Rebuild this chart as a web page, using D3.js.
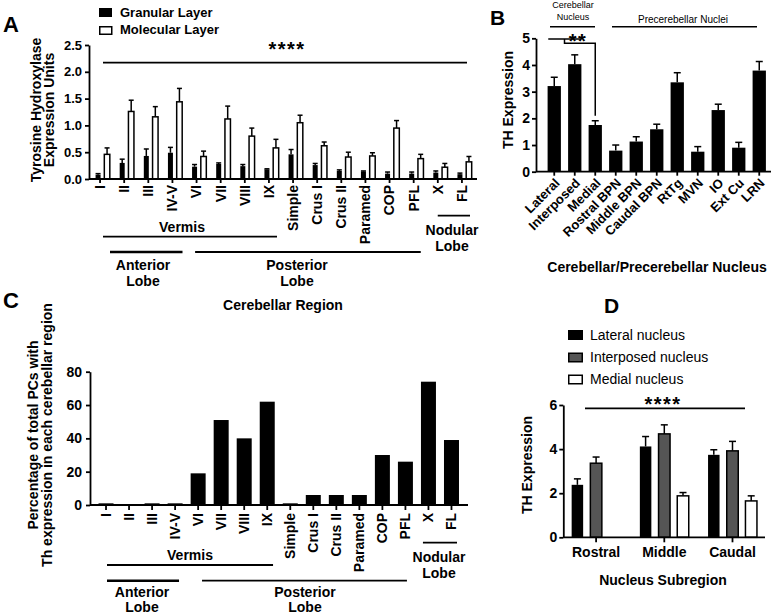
<!DOCTYPE html>
<html><head><meta charset="utf-8">
<script src="https://cdn.jsdelivr.net/npm/d3@7"></script>
<style>body{margin:0;background:#fff}</style>
</head><body><svg id="c" width="775" height="616"></svg>
<script>
// ---------- DATA ----------
const regions = ["I","II","III","IV-V","VI","VII","VIII","IX","Simple","Crus I","Crus II","Paramed","COP","PFL","X","FL"];
const granular     = [0.08,0.30,0.43,0.49,0.23,0.28,0.24,0.18,0.46,0.26,0.15,0.14,0.10,0.10,0.12,0.09];
const granularErr  = [0.02,0.07,0.13,0.10,0.04,0.02,0.03,0.01,0.09,0.03,0.02,0.01,0.03,0.03,0.03,0.02];
const molecular    = [0.46,1.26,1.16,1.44,0.42,1.12,0.80,0.58,1.05,0.62,0.41,0.43,0.95,0.38,0.22,0.32];
const molecularErr = [0.12,0.21,0.19,0.25,0.10,0.24,0.15,0.16,0.14,0.07,0.09,0.06,0.14,0.08,0.07,0.10];
const layerNames = ["Granular Layer","Molecular Layer"];
const ticksA = [0,0.5,1.0,1.5,2.0,2.5];

const nuclei = ["Lateral","Interposed","Medial","Rostral BPN","Middle BPN","Caudal BPN","RtTg","MVN","IO","Ext Cu","LRN"];
const thB    = [3.21,4.03,1.75,0.79,1.13,1.59,3.35,0.75,2.31,0.90,3.79];
const thBErr = [0.33,0.35,0.16,0.21,0.18,0.19,0.36,0.19,0.22,0.20,0.34];
const ticksB = [0,1,2,3,4,5];

const pcPercent = [1,0,1,1,19,51,40,62,1,6,6,6,30,26,74,39];
const ticksC = [0,20,40,60,80];

const subregions = ["Rostral","Middle","Caudal"];
const nucleusNames = ["Lateral nucleus","Interposed nucleus","Medial nucleus"];
const lateralD = [2.38,4.12,3.74],    lateralDErr = [0.27,0.45,0.23];
const interposedD = [3.36,4.69,3.92], interposedDErr = [0.28,0.41,0.43];
const medialD = [null,1.88,1.65],     medialDErr = [null,0.15,0.23];
const ticksD = [0,2,4,6];

// ---------- HELPERS ----------
const F = '"Liberation Sans", Arial, Helvetica, sans-serif';
const svg = d3.select("#c");
const LW = 1.8;
function txt(g, x, y, s, o = {}) {
  const t = g.append("text").attr("x", x).attr("y", y).text(s)
    .attr("font-family", F).attr("font-size", o.size || 14)
    .attr("font-weight", o.weight || "bold")
    .attr("text-anchor", o.anchor || "middle").attr("fill", o.fill || "#000");
  if (o.rotate != null) t.attr("transform", `rotate(${o.rotate},${x},${y})`);
  if (o.ls != null) t.attr("letter-spacing", o.ls);
  return t;
}
function ln(g, x1, y1, x2, y2, w = LW) {
  g.append("line").attr("x1", x1).attr("y1", y1).attr("x2", x2).attr("y2", y2)
    .attr("stroke", "#000").attr("stroke-width", w);
}
function yAxis(g, y, x, vals, fmt, size, tick, pad) {
  const a = g.append("g").attr("transform", `translate(${x},0)`)
    .call(d3.axisLeft(y).tickValues(vals).tickFormat(fmt).tickSize(tick).tickPadding(pad).tickSizeOuter(0));
  a.select(".domain").attr("stroke-width", LW);
  a.selectAll(".tick line").attr("stroke-width", LW);
  a.selectAll(".tick text").attr("font-size", size).attr("font-weight", "bold").attr("font-family", F).attr("fill", "#000");
  return a;
}
function xAxis(g, x, y0, x1, x2, tick) {
  const a = g.append("g").attr("transform", `translate(0,${y0})`)
    .call(d3.axisBottom(x).tickSize(tick).tickSizeOuter(0));
  a.select(".domain").remove();
  a.selectAll(".tick line").attr("stroke-width", LW);
  ln(g, x1, y0, x2, y0);
  return a;
}
function bar(g, cx, w, y, v, err, fill, capW) {
  if (v == null) return;
  const y0 = y(0), yv = y(v);
  if (err) {
    const ye = y(v + err);
    ln(g, cx, yv, cx, ye, 1.5);
    ln(g, cx - capW / 2, ye, cx + capW / 2, ye, 1.5);
  }
  g.append("rect").attr("x", cx - w / 2).attr("y", yv).attr("width", w).attr("height", y0 - yv)
    .attr("fill", fill).attr("stroke", "#000").attr("stroke-width", fill === "#000" ? 0 : 1.5);
}

// ---------- PANEL A ----------
const gA = svg.append("g");
const xA = d3.scaleBand().domain(regions).range([88, 474]);
const yA = d3.scaleLinear().domain([0, 2.5]).range([179, 45]);
const bwA = xA.bandwidth();
regions.forEach((r, i) => {
  const c = xA(r) + bwA / 2;
  bar(gA, c - 2, 5, yA, granular[i], granularErr[i], "#000", 5);
  bar(gA, c + 7, 5.5, yA, molecular[i], molecularErr[i], "#fff", 5);
});
yAxis(gA, yA, 89, ticksA, d3.format(".1f"), 13, 4, 3);
const axA = xAxis(gA, xA, 179, 89, 477, 4);
axA.selectAll(".tick text").attr("font-size", 14).attr("font-weight", "bold").attr("font-family", F).attr("fill", "#000")
  .attr("transform", "rotate(-90)").attr("x", -6).attr("y", 0).attr("dy", "0.35em").attr("text-anchor", "end");
// legend A
gA.append("rect").attr("x", 99).attr("y", 8).attr("width", 13).attr("height", 9).attr("fill", "#000");
gA.append("rect").attr("x", 99.75).attr("y", 26.75).attr("width", 12).attr("height", 7.5).attr("fill", "#fff").attr("stroke", "#000").attr("stroke-width", 1.5);
txt(gA, 120, 16.5, layerNames[0], { size: 13, anchor: "start" });
txt(gA, 120, 33.5, layerNames[1], { size: 13, anchor: "start" });
// significance
ln(gA, 103, 62.7, 467, 62.7);
txt(gA, 287, 56, "****", { size: 20, ls: 1.5 });
// y label
txt(gA, 41, 110, "Tyrosine Hydroxylase", { size: 14, rotate: -90 });
txt(gA, 54, 110, "Expression Units", { size: 14, rotate: -90 });
// group annotations
const sA = xA.step();
ln(gA, xA("I") + 15, 236.7, xA("IX") + sA - 4, 236.7);
txt(gA, 182, 232, "Vermis");
ln(gA, xA("I") + 22, 252, xA("IV-V") + sA - 2, 252, 2.5);
ln(gA, xA("VI") + 10.6, 252, xA("PFL") + sA - 5, 252);
ln(gA, xA("X") + 12, 215.7, xA("FL") + sA - 4, 215.7);
txt(gA, 143, 270, "Anterior"); txt(gA, 143, 286, "Lobe");
txt(gA, 297, 270, "Posterior"); txt(gA, 297, 286, "Lobe");
txt(gA, 452, 235, "Nodular"); txt(gA, 452, 251, "Lobe");
txt(gA, 283, 310, "Cerebellar Region");
txt(gA, 3, 32, "A", { size: 22, anchor: "start" });

// ---------- PANEL B ----------
const gB = svg.append("g");
const xB = d3.scaleBand().domain(nuclei).range([544, 769.5]);
const yB = d3.scaleLinear().domain([0, 5]).range([171.7, 38.3]);
nuclei.forEach((n, i) => {
  bar(gB, xB(n) + xB.bandwidth() / 2, 13.3, yB, thB[i], thBErr[i], "#000", 7);
});
yAxis(gB, yB, 536, ticksB, d3.format("d"), 14, 4, 2);
const axB = xAxis(gB, xB, 171.7, 536, 771, 4);
axB.selectAll(".tick text").attr("font-size", 13).attr("font-weight", "bold").attr("font-family", F).attr("fill", "#000")
  .attr("transform", "translate(3,9) rotate(-45)").attr("x", 0).attr("y", 0).attr("dy", "0.35em").attr("text-anchor", "end");
txt(gB, 657, 272, "Cerebellar/Precerebellar Nucleus", { size: 14 });
txt(gB, 513, 100, "TH Expression", { size: 14, rotate: -90 });
// headers
txt(gB, 573, 8, "Cerebellar", { size: 9, weight: "normal" });
txt(gB, 573, 20, "Nucleus", { size: 9, weight: "normal" });
ln(gB, 550, 26.7, 595, 26.7, 1.5);
txt(gB, 683, 22.5, "Precerebellar Nuclei", { size: 10, weight: "normal" });
ln(gB, 612, 26.7, 757, 26.7, 1.5);
// significance bracket
const cL = xB("Lateral") + xB.bandwidth() / 2, cI = xB("Interposed") + xB.bandwidth() / 2, cM = xB("Medial") + xB.bandwidth() / 2;
ln(gB, cL - 6, 39, cI + 6, 39, 1.5);
gB.append("path").attr("d", `M${(cL + cI) / 2},39 V43.3 H${cM} V${yB(thB[2] + thBErr[2]) - 5}`)
  .attr("fill", "none").attr("stroke", "#000").attr("stroke-width", 1.5);
txt(gB, 578, 47.5, "**", { size: 20, ls: 1.5 });
txt(gB, 490, 25, "B", { size: 21, anchor: "start" });

// ---------- PANEL C ----------
const gC = svg.append("g");
const xC = d3.scaleBand().domain(regions).range([94.5, 463]);
const yC = d3.scaleLinear().domain([0, 80]).range([505, 371.7]);
regions.forEach((r, i) => {
  if (pcPercent[i] > 0) bar(gC, xC(r) + xC.bandwidth() / 2, 15, yC, pcPercent[i], 0, "#000", 0);
});
yAxis(gC, yC, 90, ticksC, d3.format("d"), 14, 4, 4);
const axC = xAxis(gC, xC, 505, 90, 468, 5);
axC.selectAll(".tick text").attr("font-size", 14).attr("font-weight", "bold").attr("font-family", F).attr("fill", "#000")
  .attr("transform", "rotate(-90)").attr("x", -8).attr("y", 0).attr("dy", "0.35em").attr("text-anchor", "end");
txt(gC, 38, 435, "Percentage of total PCs with", { size: 14, rotate: -90 });
txt(gC, 52, 435, "Th expression in each cerebellar region", { size: 14, rotate: -90 });
const sC = xC.step();
ln(gC, xC("I") + 12.5, 565, xC("IX") + sC - 5.7, 565);
txt(gC, 190, 560, "Vermis");
ln(gC, xC("I") + 12.5, 580.7, xC("IV-V") + sC - 7.6, 580.7, 2.5);
ln(gC, xC("VI") + 15.4, 580.7, xC("PFL") + sC - 10, 580.7);
ln(gC, xC("X") + 6, 542.7, xC("FL") + sC - 6, 542.7);
txt(gC, 142, 597, "Anterior"); txt(gC, 142, 612, "Lobe");
txt(gC, 305, 597, "Posterior"); txt(gC, 305, 612, "Lobe");
txt(gC, 439, 562, "Nodular"); txt(gC, 439, 578, "Lobe");
txt(gC, 3, 308, "C", { size: 22, anchor: "start" });

// ---------- PANEL D ----------
const gD = svg.append("g");
const xD = d3.scaleBand().domain(subregions).range([562, 766.6]);
const yD = d3.scaleLinear().domain([0, 6]).range([537.3, 405]);
const seriesD = [
  { v: lateralD, e: lateralDErr, fill: "#000", off: -18.7 },
  { v: interposedD, e: interposedDErr, fill: "#555", off: 0 },
  { v: medialD, e: medialDErr, fill: "#fff", off: 18.7 }
];
subregions.forEach((s, i) => {
  const c = xD(s) + xD.bandwidth() / 2;
  seriesD.forEach(sr => bar(gD, c + sr.off, 11.5, yD, sr.v[i], sr.e[i], sr.fill, 7));
});
yAxis(gD, yD, 563.3, ticksD, d3.format("d"), 14, 4, 2);
const axD = xAxis(gD, xD, 537.3, 563.3, 765, 5);
axD.selectAll(".tick text").attr("font-size", 14).attr("font-weight", "bold").attr("font-family", F).attr("fill", "#000")
  .attr("y", 0).attr("dy", 0).attr("transform", "translate(0,19.7)");
txt(gD, 663, 585, "Nucleus Subregion", { size: 14 });
txt(gD, 532, 465, "TH Expression", { size: 14, rotate: -90 });
ln(gD, 585, 408.3, 745, 408.3);
txt(gD, 663, 410.5, "****", { size: 20, ls: 1.5 });
// legend D
const legY = [330, 352.5, 374.5];
seriesD.forEach((sr, i) => {
  gD.append("rect").attr("x", 568.75).attr("y", legY[i] + 0.75).attr("width", 13.5).attr("height", 8.5)
    .attr("fill", sr.fill).attr("stroke", "#000").attr("stroke-width", 1.5);
  txt(gD, 590, legY[i] + 9.5, nucleusNames[i], { size: 14, weight: "normal", anchor: "start" });
});
txt(gD, 604, 313, "D", { size: 21, anchor: "start" });
</script></body></html>
